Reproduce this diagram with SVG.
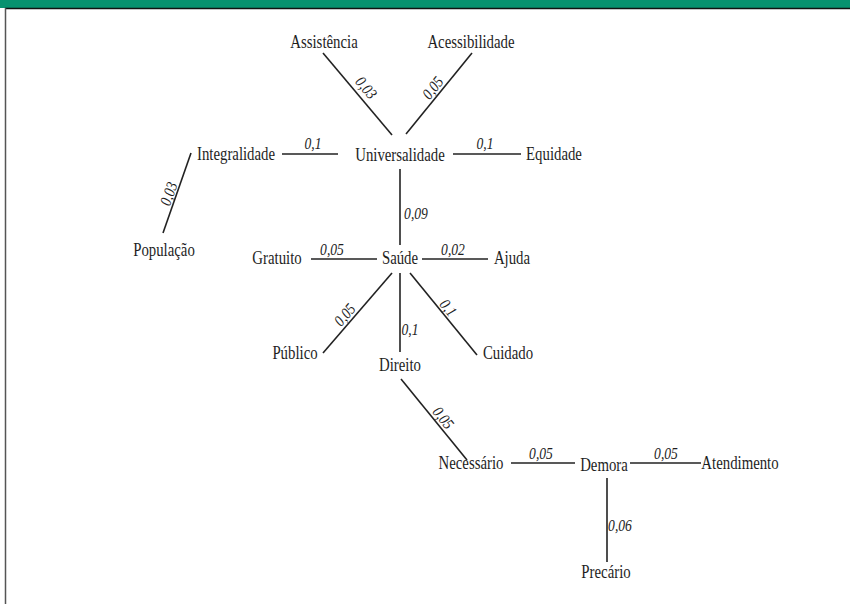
<svg xmlns="http://www.w3.org/2000/svg" width="850" height="604" viewBox="0 0 850 604">
<style>
.n{font-family:'Liberation Serif','DejaVu Serif',serif;font-size:18.5px;fill:#1e1e1e;text-anchor:middle}
.w{font-family:'Liberation Serif','DejaVu Serif',serif;font-size:16px;font-style:italic;fill:#1e1e1e;text-anchor:middle}
.e line{stroke:#222;stroke-width:1.6}
</style>
<rect x="0" y="0" width="850" height="8" fill="#07926f"/>
<line x1="5" y1="8.5" x2="850" y2="8.5" stroke="#111" stroke-width="1.5"/>
<line x1="5.5" y1="8" x2="5.5" y2="604" stroke="#555" stroke-width="1.5"/>
<g class="e" id="connectors">
<line x1="323" y1="53" x2="392" y2="135"/>
<line x1="472" y1="53" x2="406" y2="134"/>
<line x1="282" y1="154" x2="338" y2="154"/>
<line x1="453" y1="154" x2="521" y2="154"/>
<line x1="191" y1="153" x2="163" y2="233"/>
<line x1="400" y1="169" x2="400" y2="245"/>
<line x1="311" y1="259" x2="377" y2="259"/>
<line x1="422" y1="259" x2="488" y2="259"/>
<line x1="392" y1="273" x2="323" y2="353"/>
<line x1="400" y1="273" x2="400" y2="352"/>
<line x1="410" y1="273" x2="477" y2="355"/>
<line x1="401" y1="379" x2="467" y2="460"/>
<line x1="511" y1="463" x2="575" y2="463"/>
<line x1="630" y1="463" x2="701" y2="463"/>
<line x1="607" y1="478" x2="607" y2="562"/>
<text class="w" transform="translate(366,88) rotate(50) scale(.85,1)" y="5">0,03</text>
<text class="w" transform="translate(433,88) rotate(-51) scale(.85,1)" y="5">0,05</text>
<text class="w" transform="translate(313,149) scale(.85,1)">0,1</text>
<text class="w" transform="translate(485,149) scale(.85,1)">0,1</text>
<text class="w" transform="translate(169,194) rotate(-71) scale(.85,1)" y="5">0,03</text>
<text class="w" transform="translate(416,219) scale(.85,1)">0,09</text>
<text class="w" transform="translate(332,255) scale(.85,1)">0,05</text>
<text class="w" transform="translate(453,255) scale(.85,1)">0,02</text>
<text class="w" transform="translate(345,315) rotate(-49) scale(.85,1)" y="5">0,05</text>
<text class="w" transform="translate(410,335) scale(.85,1)">0,1</text>
<text class="w" transform="translate(448,308) rotate(51) scale(.85,1)" y="5">0,1</text>
<text class="w" transform="translate(443,418) rotate(51) scale(.85,1)" y="5">0,05</text>
<text class="w" transform="translate(541,459) scale(.85,1)">0,05</text>
<text class="w" transform="translate(666,459) scale(.85,1)">0,05</text>
<text class="w" transform="translate(620,531) scale(.85,1)">0,06</text>
</g>
<g id="assistencia"><text class="n" transform="translate(324,48) scale(.8,1)">Assistência</text></g>
<g id="acessibilidade"><text class="n" transform="translate(471,48) scale(.8,1)">Acessibilidade</text></g>
<g id="universalidade"><text class="n" transform="translate(400,161) scale(.8,1)">Universalidade</text></g>
<g id="integralidade"><text class="n" transform="translate(236,160) scale(.8,1)">Integralidade</text></g>
<g id="equidade"><text class="n" transform="translate(554,160) scale(.8,1)">Equidade</text></g>
<g id="populacao"><text class="n" transform="translate(164,256) scale(.8,1)">População</text></g>
<g id="gratuito"><text class="n" transform="translate(277,264) scale(.8,1)">Gratuito</text></g>
<g id="saude"><text class="n" transform="translate(400,264) scale(.8,1)">Saúde</text></g>
<g id="ajuda"><text class="n" transform="translate(512,264) scale(.8,1)">Ajuda</text></g>
<g id="publico"><text class="n" transform="translate(295,359) scale(.8,1)">Público</text></g>
<g id="direito"><text class="n" transform="translate(400,371) scale(.8,1)">Direito</text></g>
<g id="cuidado"><text class="n" transform="translate(508,359) scale(.8,1)">Cuidado</text></g>
<g id="necessario"><text class="n" transform="translate(471,469) scale(.8,1)">Necessário</text></g>
<g id="demora"><text class="n" transform="translate(604,471) scale(.8,1)">Demora</text></g>
<g id="atendimento"><text class="n" transform="translate(740,469) scale(.8,1)">Atendimento</text></g>
<g id="precario"><text class="n" transform="translate(606,578) scale(.8,1)">Precário</text></g>
</svg>
